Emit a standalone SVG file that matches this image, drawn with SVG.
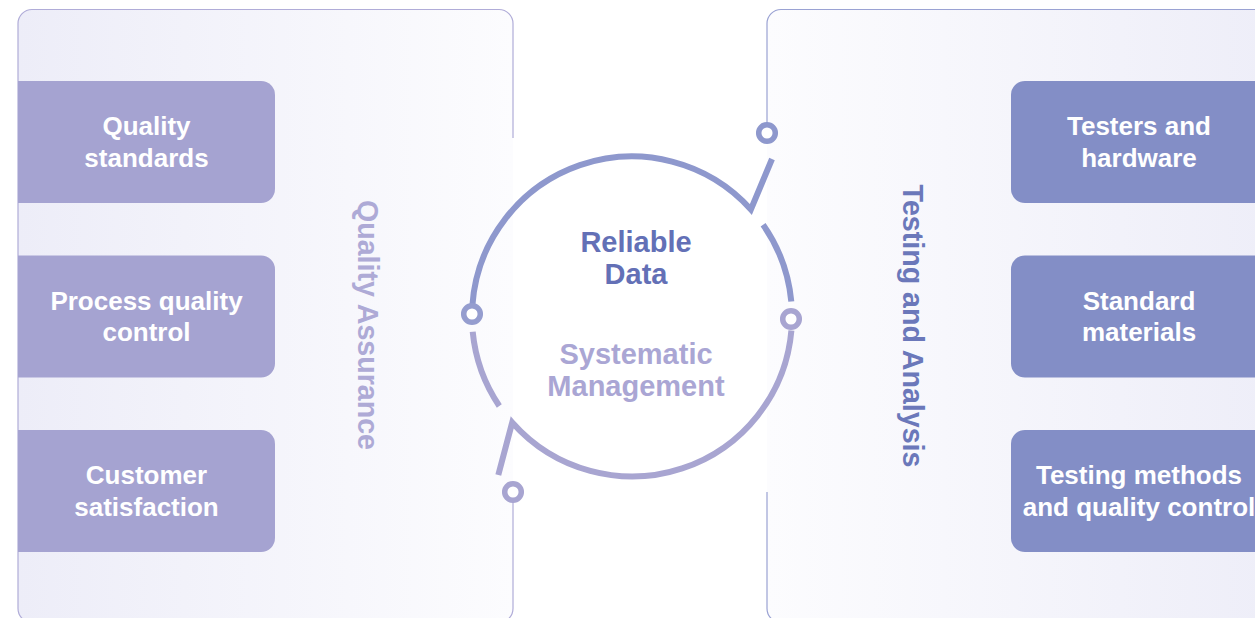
<svg xmlns="http://www.w3.org/2000/svg" width="1255" height="618" viewBox="0 0 1255 618">
  <defs>
    <linearGradient id="gl" x1="0" y1="0" x2="1" y2="0">
      <stop offset="0" stop-color="#ededf8"/>
      <stop offset="1" stop-color="#fcfcfe"/>
    </linearGradient>
    <linearGradient id="gr" x1="0" y1="0" x2="1" y2="0">
      <stop offset="0" stop-color="#fcfcfe"/>
      <stop offset="1" stop-color="#ededf8"/>
    </linearGradient>
  </defs>
  <style>
    .box-l { fill: #a5a3d1; }
    .box-r { fill: #838ec6; }
    .bt { font-family: "Liberation Sans", Arial, sans-serif; font-weight: bold; font-size: 26px; fill: #ffffff; text-anchor: middle; }
    .big { font-family: "Liberation Sans", Arial, sans-serif; font-weight: bold; font-size: 28.6px; text-anchor: middle; }
    .ctr { font-family: "Liberation Sans", Arial, sans-serif; font-weight: bold; font-size: 29px; text-anchor: middle; }
    .arc-b { fill: none; stroke: #8e98cd; stroke-width: 6; stroke-linejoin: miter; }
    .arc-p { fill: none; stroke: #a8a5d1; stroke-width: 6; stroke-linejoin: miter; }
    .node { fill: #ffffff; stroke-width: 5.5; }
  </style>
  <rect width="1255" height="618" fill="#ffffff"/>

  <g id="panel-left">
    <rect x="18" y="9.5" width="495" height="613" rx="14" fill="url(#gl)"/>
    <path d="M513,138 V23.5 A14,14 0 0 0 499,9.5 H32 A14,14 0 0 0 18,23.5 V608.5 A14,14 0 0 0 32,622.5 H499 A14,14 0 0 0 513,608.5 V492" fill="none" stroke="#b0acd8" stroke-width="1.2"/>
    <text class="big" fill="#aeaad6" transform="translate(357.5,325) rotate(90)">Quality Assurance</text>
  </g>

  <g id="panel-right">
    <rect x="767" y="9.5" width="530" height="613" rx="14" fill="url(#gr)"/>
    <path d="M767,133 V23.5 A14,14 0 0 1 781,9.5 H1300" fill="none" stroke="#9aa2d3" stroke-width="1.2"/>
    <path d="M767,492 V608.5 A14,14 0 0 0 781,622.5 H1300" fill="none" stroke="#9aa2d3" stroke-width="1.2"/>
    <text class="big" fill="#6b78ba" transform="translate(902.5,326) rotate(90)">Testing and Analysis</text>
  </g>

  <g id="box-quality-standards">
    <path class="box-l" d="M18,81 H261 A14,14 0 0 1 275,95 V189 A14,14 0 0 1 261,203 H18 Z"/>
    <text class="bt" x="146.5" y="135">Quality</text>
    <text class="bt" x="146.5" y="167">standards</text>
  </g>
  <g id="box-process-quality-control">
    <path class="box-l" d="M18,255.5 H261 A14,14 0 0 1 275,269.5 V363.5 A14,14 0 0 1 261,377.5 H18 Z"/>
    <text class="bt" x="146.5" y="309.5">Process quality</text>
    <text class="bt" x="146.5" y="341">control</text>
  </g>
  <g id="box-customer-satisfaction">
    <path class="box-l" d="M18,430 H261 A14,14 0 0 1 275,444 V538 A14,14 0 0 1 261,552 H18 Z"/>
    <text class="bt" x="146.5" y="484">Customer</text>
    <text class="bt" x="146.5" y="516">satisfaction</text>
  </g>

  <g id="box-testers-hardware">
    <path class="box-r" d="M1300,81 H1025 A14,14 0 0 0 1011,95 V189 A14,14 0 0 0 1025,203 H1300 Z"/>
    <text class="bt" x="1139" y="135">Testers and</text>
    <text class="bt" x="1139" y="167">hardware</text>
  </g>
  <g id="box-standard-materials">
    <path class="box-r" d="M1300,255.5 H1025 A14,14 0 0 0 1011,269.5 V363.5 A14,14 0 0 0 1025,377.5 H1300 Z"/>
    <text class="bt" x="1139" y="309.5">Standard</text>
    <text class="bt" x="1139" y="341">materials</text>
  </g>
  <g id="box-testing-methods">
    <path class="box-r" d="M1300,430 H1025 A14,14 0 0 0 1011,444 V538 A14,14 0 0 0 1025,552 H1300 Z"/>
    <text class="bt" x="1139" y="484">Testing methods</text>
    <text class="bt" x="1139" y="516">and quality control</text>
  </g>

  <g id="connectors">
    <path class="arc-b" d="M472.4,305.3 A160,160 0 0 1 750.9,209.4 L772,159"/>
    <path class="arc-b" d="M763.1,224.7 A160,160 0 0 1 791.3,301.5"/>
    <path class="arc-p" d="M791.4,330.4 A160,160 0 0 1 512.2,422.5 L498.3,475"/>
    <path class="arc-p" d="M499.3,406 A160,160 0 0 1 472.7,331.8"/>
  </g>

  <g id="node-top-right"><circle class="node" cx="767" cy="133" r="8.3" stroke="#8e98cd"/></g>
  <g id="node-left"><circle class="node" cx="472" cy="314" r="8.3" stroke="#959dcf"/></g>
  <g id="node-right"><circle class="node" cx="791" cy="319" r="8.3" stroke="#a8a5d1"/></g>
  <g id="node-bottom-left"><circle class="node" cx="513" cy="492" r="8.3" stroke="#a8a5d1"/></g>

  <g id="center-label">
    <text class="ctr" fill="#6370b6" x="636" y="251.5">Reliable</text>
    <text class="ctr" fill="#6370b6" x="636" y="283.5">Data</text>
    <text class="ctr" fill="#aaa6d4" x="636" y="364">Systematic</text>
    <text class="ctr" fill="#aaa6d4" x="636" y="396">Management</text>
  </g>
</svg>
